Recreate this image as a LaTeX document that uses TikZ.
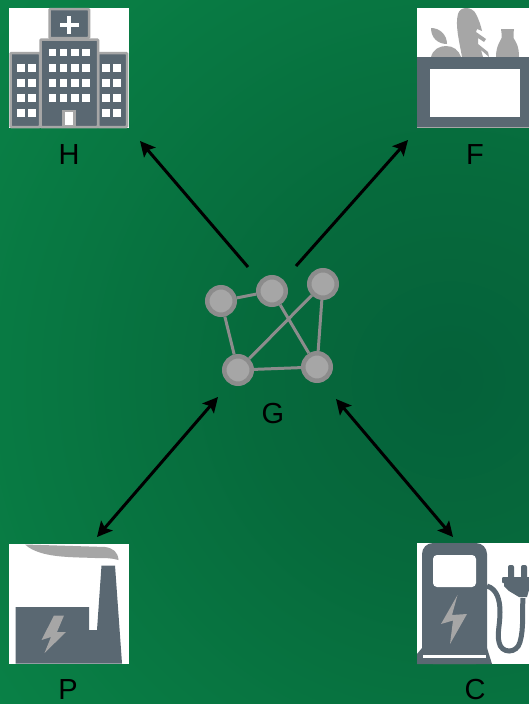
\documentclass[tikz,border=0pt]{standalone}
\usepackage{fontspec}
\setmainfont{Liberation Sans}
\usetikzlibrary{arrows.meta}
\definecolor{slate}{HTML}{5A6872}
\definecolor{lgray}{HTML}{A6A6A6}
\definecolor{edgeg}{HTML}{8C8C8C}
\definecolor{bgA}{HTML}{05613A}
\definecolor{bgB}{HTML}{066A3C}
\definecolor{bgC}{HTML}{0A8548}
\pgfdeclareradialshading{bggreen}{\pgfpoint{0bp}{0bp}}{color(0bp)=(bgA);color(8bp)=(bgB);color(25bp)=(bgC);color(50bp)=(bgC)}
\tikzset{
 x=1pt,y=-1pt,
 lab/.style={font=\fontsize{29}{29}\selectfont,text=black,inner sep=0pt,anchor=center},
 netn/.style={circle,fill=lgray,draw=edgeg,line width=4.5pt,minimum size=27.5pt,inner sep=0pt},
 netl/.style={draw=edgeg,line width=3pt},
 arr/.style={draw=black,line width=3pt,-{Stealth[length=15pt,width=15pt,inset=3pt]}},
 darr/.style={draw=black,line width=3pt,{Stealth[length=15pt,width=15pt,inset=3pt]}-{Stealth[length=15pt,width=15pt,inset=3pt]}},
 blockb/.style={fill=slate,draw=lgray,line width=2.5pt},
}
\begin{document}
\begin{tikzpicture}
\useasboundingbox (0,0) rectangle (529,704);
\begin{scope}
\clip (0,0) rectangle (529,704);
\fill[bgC] (0,0) rectangle (529,704);
\shade[shading=bggreen] (450,380) circle[radius=620];
\end{scope}
% white panels
\fill[white] (8.5,7.5) rectangle (129,128);
\fill[white] (417,7.5) rectangle (529,128);
\fill[white] (8.5,544) rectangle (129,664);
\fill[white] (417,543) rectangle (529,664);
% hospital
\draw[blockb,rounded corners=1pt] (49.5,9) rectangle (89,38);
\draw[blockb,rounded corners=1pt] (10.5,53) rectangle (40,127);
\draw[blockb,rounded corners=1pt] (98,53) rectangle (127,127);
\draw[blockb,rounded corners=1pt] (40.5,39.5) rectangle (98,127);
\fill[white] (60,23) rectangle (78.5,27);
\fill[white] (67.3,15.5) rectangle (71.3,34);
\foreach \px in {52.5,63.5,75,86}{\foreach \py in {52.5,68,83,98}{\fill[white] (\px-3.7,\py-3.7) rectangle (\px+3.7,\py+3.7);}}
\foreach \px in {21,32,106,117}{\foreach \py in {68,83,98,113}{\fill[white] (\px-3.7,\py-3.7) rectangle (\px+3.7,\py+3.7);}}
\draw[fill=white,draw=lgray,line width=2.5pt] (63.5,111) rectangle (74.5,126);
% groceries
\fill[lgray] (431,57) .. controls (433,49) and (440,46) .. (446,46) .. controls (453,46) and (459,50) .. (461,57) -- cycle;
\fill[lgray] (431,28) .. controls (440,28) and (447,35) .. (447,44) .. controls (438,44) and (431,38) .. (431,28) -- cycle;
\fill[lgray] (462,57) .. controls (459,40) and (455,25) .. (458,14) .. controls (460,6) and (472,6) .. (476,14) .. controls (479,20) and (481,26) .. (482,31)
 -- (477,29) -- (476,32) -- (486,39) -- (484,42) -- (478,38) -- (478,44) -- (488,52) -- (489,57) -- (481,50) -- (483,57) -- cycle;
\fill[lgray] (496,57) .. controls (496,46) and (500,42) .. (501.5,38) -- (501.5,33) -- (501,29) -- (514,29) -- (513.5,33) -- (513.5,38) .. controls (516,42) and (519,46) .. (519,57) -- cycle;
\fill[slate] (417,57) rectangle (529,127);
\fill[lgray] (417,127) rectangle (529,128);
\fill[white] (429.5,68.5) rectangle (520,116.5);
% factory
\fill[lgray] (25,544.5) -- (105,547) .. controls (113,548) and (118,552) .. (118.5,560) .. controls (112,558) and (105,558) .. (95,558) .. controls (70,557) and (40,558) .. (25,544.5) -- cycle;
\fill[slate] (15.5,607) -- (89,607) -- (89,630) -- (97,630) -- (101.5,565.5) -- (115,565.5) -- (122,663.5) -- (15.5,663.5) -- cycle;
\fill[lgray] (54,615.5) -- (64,615.5) -- (57,632) -- (66,632) -- (44.5,653) -- (51,637) -- (41.5,640) -- cycle;
% pump
\fill[slate,rounded corners=11pt] (422,664) -- (422,543) -- (487,543) -- (487,664) -- cycle;
\fill[slate] (422,648) -- (487,648) -- (492,664) -- (417,664) -- (417,654) -- cycle;
\fill[white] (423,655) rectangle (486,658);
\fill[white,rounded corners=4pt] (433,555) rectangle (476,587);
\fill[lgray] (457.5,595) -- (452,615) -- (467,614) -- (450,644) -- (453,620.5) -- (441,624) -- cycle;
\draw[slate,line width=5pt] (487,586) .. controls (497,589) and (500,600) .. (500,612) .. controls (500,625) and (497,633) .. (499,642) .. controls (501,654) and (517,654) .. (520,642) .. controls (524,628) and (522,612) .. (523,598);
\fill[slate] (504,577) -- (529,577) -- (529,590) -- (527,597) -- (519,597) -- (509,591) -- (504,586) -- cycle;
\fill[slate,rounded corners=2pt] (508,565) rectangle (514,580);
\fill[slate,rounded corners=2pt] (521,565) rectangle (527,580);
\fill[slate,rounded corners=1pt] (502,577) rectangle (506,583);
% network
\node[netn] (n1) at (221,301) {};
\node[netn] (n2) at (272,291) {};
\node[netn] (n3) at (323,284) {};
\node[netn] (n4) at (238,370) {};
\node[netn] (n5) at (317,367) {};
\draw[netl] (n1) -- (n2);
\draw[netl] (n1) -- (n4);
\draw[netl] (n2) -- (n5);
\draw[netl] (n3) -- (n4);
\draw[netl] (n3) -- (n5);
\draw[netl] (n4) -- (n5);
% labels
\node[lab] (H) at (69,155) {H};
\node[lab] (F) at (475,155) {F};
\node[lab] (G) at (273,414) {G};
\node[lab] (P) at (68,690) {P};
\node[lab] (C) at (475,690) {C};
% arrows
\coordinate (hs) at (248,267); \coordinate (he) at (140,141);
\coordinate (fs) at (296,266); \coordinate (fe) at (408,140);
\coordinate (ps) at (218,397); \coordinate (pe) at (97,537);
\coordinate (cs) at (336,399); \coordinate (ce) at (453,537);
\draw[arr] (hs) -- (he);
\draw[arr] (fs) -- (fe);
\draw[darr] (ps) -- (pe);
\draw[darr] (cs) -- (ce);
\end{tikzpicture}
\end{document}
